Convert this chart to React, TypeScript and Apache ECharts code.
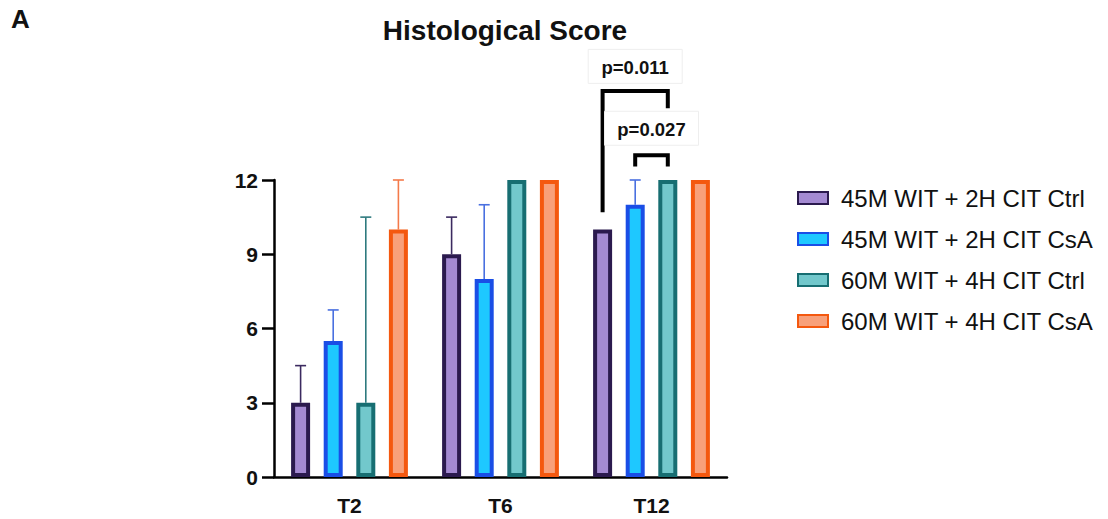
import React, { useEffect, useRef } from "react";
import * as echarts from "echarts";

// Time points and treatment groups
const categories = ["T2", "T6", "T12"];
const groupNames = [
  "45M WIT + 2H CIT Ctrl",
  "45M WIT + 2H CIT CsA",
  "60M WIT + 4H CIT Ctrl",
  "60M WIT + 4H CIT CsA",
];

// Mean histological score per group, per time point
const ctrl45 = [3, 9, 10];
const csa45 = [5.5, 8, 11];
const ctrl60 = [3, 12, 12];
const csa60 = [10, 12, 12];
const means = [ctrl45, csa45, ctrl60, csa60];

// Upper end of each error bar (null = no error bar drawn)
const ctrl45Upper = [4.5, 10.5, null];
const csa45Upper = [6.75, 11, 12];
const ctrl60Upper = [10.5, null, null];
const csa60Upper = [12, null, null];
const uppers = [ctrl45Upper, csa45Upper, ctrl60Upper, csa60Upper];

const yTicks = [0, 3, 6, 9, 12];

// Significance comparisons at T12: groups compared, bracket heights (score units)
const comparisons = [
  { label: "p=0.011", cat: 2, from: 0, to: 2, top: 15.6, fromEnd: 10.7, toEnd: 14.9, labelAt: 16.55 },
  { label: "p=0.027", cat: 2, from: 1, to: 2, top: 13.0, fromEnd: 12.55, toEnd: 12.55, labelAt: 14.05 },
];

const fills = ["#a48ad2", "#1ec8ff", "#72c8cc", "#f8a07a"];
const borders = ["#2b1a4e", "#1a4ee6", "#176e72", "#f4580f"];
const errColors = ["#3b2a60", "#4a70e0", "#2e7a7e", "#f47a4a"];

const BAR_WIDTH = 19;
const SLOT = 32.6;
const BAR_GAP = (SLOT - BAR_WIDTH) / BAR_WIDTH;
const offsetOf = (i: number) => (i - 1.5) * SLOT;

const FONT = "'Liberation Sans', Arial, sans-serif";

export default function App() {
  const ref = useRef<HTMLDivElement>(null);

  useEffect(() => {
    if (!ref.current) return;
    const chart = echarts.init(ref.current, undefined, { renderer: "svg" });

    const barSeries = groupNames.map((name, i) => ({
      name,
      type: "bar",
      data: means[i],
      barWidth: BAR_WIDTH,
      barGap: `${BAR_GAP * 100}%`,
      itemStyle: { color: fills[i], borderColor: borders[i], borderWidth: 4 },
      z: 3,
    }));

    // error bars (one-sided, upward)
    const errData: any[] = [];
    uppers.forEach((arr, s) =>
      arr.forEach((u, c) => {
        if (u !== null) errData.push([c, means[s][c], u, s]);
      })
    );

    const errSeries = {
      type: "custom",
      data: errData,
      z: 2,
      silent: true,
      renderItem: (params: any, api: any) => {
        const c = api.value(0);
        const v = api.value(1);
        const u = api.value(2);
        const s = api.value(3);
        const p0 = api.coord([c, v]);
        const p1 = api.coord([c, u]);
        const x = p0[0] + offsetOf(s);
        const style = { stroke: errColors[s], lineWidth: 1.6 };
        return {
          type: "group",
          children: [
            { type: "line", shape: { x1: x, y1: p0[1], x2: x, y2: p1[1] }, style },
            { type: "line", shape: { x1: x - 5.5, y1: p1[1], x2: x + 5.5, y2: p1[1] }, style },
          ],
        };
      },
    };

    const bracketSeries = {
      type: "custom",
      data: comparisons.map((k, i) => [k.cat, k.top, i]),
      z: 5,
      clip: false,
      silent: true,
      renderItem: (params: any, api: any) => {
        const k = comparisons[api.value(2)];
        const c = k.cat;
        const xa = api.coord([c, k.top])[0] + offsetOf(k.from);
        const xb = api.coord([c, k.top])[0] + offsetOf(k.to);
        const yTop = api.coord([c, k.top])[1];
        const yA = api.coord([c, k.fromEnd])[1];
        const yB = api.coord([c, k.toEnd])[1];
        const yL = api.coord([c, k.labelAt])[1];
        const xm = (xa + xb) / 2;
        return {
          type: "group",
          children: [
            {
              type: "polyline",
              shape: { points: [[xa, yA], [xa, yTop], [xb, yTop], [xb, yB]] },
              style: { stroke: "#000", lineWidth: 4, fill: "none" },
            },
            {
              type: "rect",
              shape: { x: xm - 47, y: yL - 18, width: 94, height: 34 },
              style: { fill: "none", stroke: "#eeeeee", lineWidth: 1 },
            },
            {
              type: "text",
              style: {
                x: xm,
                y: yL,
                text: k.label,
                align: "center",
                verticalAlign: "middle",
                font: `bold 18.5px ${FONT}`,
                fill: "#111",
              },
            },
          ],
        };
      },
    };

    chart.setOption({
      animation: false,
      backgroundColor: "#fff",
      textStyle: { fontFamily: FONT },
      title: {
        text: "Histological Score",
        left: 500,
        top: 11,
        textAlign: "center",
        textStyle: { fontSize: 28, fontWeight: "bold", color: "#111", fontFamily: FONT },
      },
      graphic: [
        {
          type: "text",
          left: 11,
          top: 6,
          style: { text: "A", font: `bold 26px ${FONT}`, fill: "#111" },
        },
      ],
      legend: {
        orient: "vertical",
        left: 792,
        top: 181,
        itemWidth: 30,
        itemHeight: 12,
        itemGap: 17,
        icon: "rect",
        data: groupNames,
        textStyle: {
          fontSize: 24,
          lineHeight: 24,
          color: "#111",
          fontFamily: FONT,
          padding: [0, 0, 0, 8],
        },
      },
      grid: { left: 274, right: 1108 - 727, top: 180, bottom: 42 },
      xAxis: {
        type: "category",
        data: categories,
        axisLine: { lineStyle: { color: "#000", width: 2.5 } },
        axisTick: { alignWithLabel: true, length: 12, lineStyle: { color: "#000", width: 2.5 } },
        axisLabel: { fontSize: 21, fontWeight: "bold", color: "#111", margin: 18, fontFamily: FONT },
      },
      yAxis: {
        type: "value",
        min: yTicks[0],
        max: yTicks[yTicks.length - 1],
        interval: 3,
        splitLine: { show: false },
        axisLine: { show: true, lineStyle: { color: "#000", width: 2.5 } },
        axisTick: { show: true, length: 12, lineStyle: { color: "#000", width: 2.5 } },
        axisLabel: { fontSize: 21, fontWeight: "bold", color: "#111", margin: 16, fontFamily: FONT },
      },
      series: [errSeries, ...barSeries, bracketSeries],
    });

    return () => chart.dispose();
  }, []);

  return (
    <div
      ref={ref}
      style={{ position: "fixed", left: 0, top: 0, width: 1108, height: 519 }}
    />
  );
}
